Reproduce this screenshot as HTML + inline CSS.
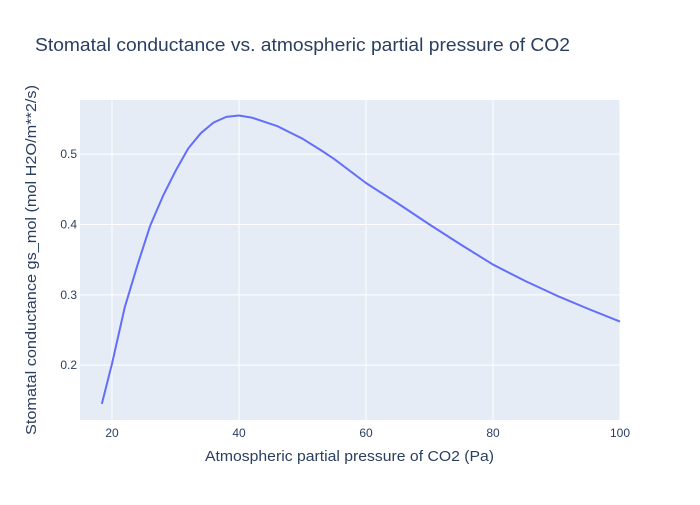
<!DOCTYPE html>
<html><head><meta charset="utf-8"><style>
body{margin:0;background:#fff;font-family:"Liberation Sans",sans-serif;}
text{font-family:"Liberation Sans",sans-serif;}
</style></head><body>
<svg id="chart" width="700" height="500">
<rect width="700" height="500" fill="#fff"/>
<rect x="80" y="100" width="540" height="320" fill="#e5ecf6"/>
<g id="grid"></g>
<g id="ticks"></g>
<path id="line" fill="none" stroke="#636efa" stroke-width="2" stroke-linejoin="round"/>
<text x="35" y="51" font-size="18" fill="#2a3f5f" textLength="535" lengthAdjust="spacingAndGlyphs">Stomatal conductance vs. atmospheric partial pressure of CO2</text>
<text x="205" y="461" font-size="15" fill="#2a3f5f" textLength="289" lengthAdjust="spacingAndGlyphs">Atmospheric partial pressure of CO2 (Pa)</text>
<text transform="translate(36,435) rotate(-90)" font-size="15" fill="#2a3f5f" textLength="350" lengthAdjust="spacingAndGlyphs">Stomatal conductance gs_mol (mol H2O/m**2/s)</text>
</svg>
<script>
const xs=[18.4,20,22,24,26,28,30,32,34,36,38,40,42,44,46,48,50,53,55,60,65,70,75,80,85,90,95,100];
const ys=[0.145,0.202,0.282,0.342,0.398,0.440,0.476,0.508,0.530,0.545,0.553,0.555,0.552,0.546,0.540,0.531,0.522,0.505,0.493,0.459,0.430,0.400,0.371,0.343,0.320,0.299,0.280,0.262];
const xTicks=[20,40,60,80,100];
const yTicks=[0.2,0.3,0.4,0.5];
const X=v=>80+(v-14.96)*(540/85.04);
const Y=v=>420-(v-0.122)*(320/0.455);
const ns="http://www.w3.org/2000/svg";
const g=document.getElementById('grid'),t=document.getElementById('ticks');
xTicks.forEach(v=>{
 const l=document.createElementNS(ns,'line');
 l.setAttribute('x1',X(v));l.setAttribute('x2',X(v));l.setAttribute('y1',100);l.setAttribute('y2',420);
 l.setAttribute('stroke','#fff');l.setAttribute('stroke-width',1);
 
 
 g.appendChild(l);
 const s=document.createElementNS(ns,'text');
 s.setAttribute('x',X(v));s.setAttribute('y',437);s.setAttribute('text-anchor','middle');s.setAttribute('font-size',12);s.setAttribute('fill','#2a3f5f');
 s.textContent=v;
 
 
 t.appendChild(s);
});
yTicks.forEach(v=>{
 const l=document.createElementNS(ns,'line');
 l.setAttribute('x1',80);l.setAttribute('x2',620);l.setAttribute('y1',Y(v));l.setAttribute('y2',Y(v));
 l.setAttribute('stroke','#fff');l.setAttribute('stroke-width',1);
 
 
 g.appendChild(l);
 const s=document.createElementNS(ns,'text');
 s.setAttribute('x',77);s.setAttribute('y',Y(v)+4);s.setAttribute('text-anchor','end');s.setAttribute('font-size',12);s.setAttribute('fill','#2a3f5f');
 s.textContent=v.toFixed(1);
 
 
 t.appendChild(s);
});
document.getElementById('line').setAttribute('d',xs.map((v,i)=>(i?'L':'M')+X(v)+','+Y(ys[i])).join(''));
</script>
</body></html>
